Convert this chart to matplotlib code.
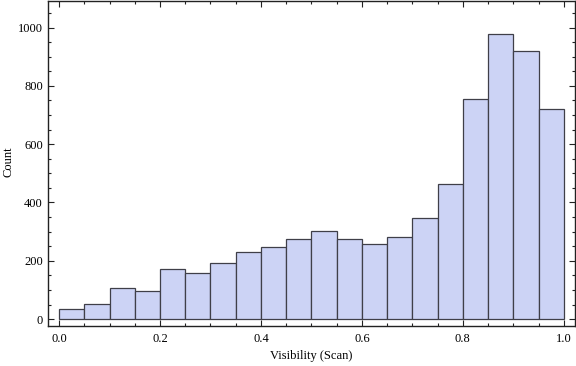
import matplotlib
matplotlib.use("Agg")
import matplotlib.pyplot as plt
import numpy as np
from matplotlib.ticker import MultipleLocator

# histogram bins (visibility) and counts
bin_edges = np.arange(0, 1.0001, 0.05)
counts = [34, 52, 107, 97, 172, 158, 193, 231, 248, 276,
          303, 276, 259, 283, 348, 465, 756, 978, 920, 721]

plt.rcParams['font.family'] = ['Liberation Serif', 'DejaVu Serif']

fig = plt.figure(figsize=(5.76, 3.66), dpi=100)
ax = fig.add_axes([0.0842, 0.109, 0.9138, 0.889])

ax.bar(bin_edges[:-1], counts, width=0.05, align='edge',
       color='#CCD3F5', edgecolor='#3f3f48', linewidth=0.9)

ax.set_xlim(-0.021, 1.022)
ax.set_ylim(-24, 1092)

ax.xaxis.set_major_locator(MultipleLocator(0.2))
ax.xaxis.set_minor_locator(MultipleLocator(0.05))
ax.yaxis.set_major_locator(MultipleLocator(200))
ax.yaxis.set_minor_locator(MultipleLocator(50))
ax.xaxis.set_major_formatter(plt.FuncFormatter(lambda v, p: f"{v:.1f}"))

ax.tick_params(which='both', direction='in', top=True, right=True,
               labelsize=9, color='#222222', width=0.8)
ax.tick_params(which='major', length=4.5)
ax.tick_params(which='minor', length=2.5)
ax.tick_params(axis='x', pad=5)
ax.tick_params(axis='y', pad=4)

for s in ax.spines.values():
    s.set_linewidth(1.0)
    s.set_color('#222222')

ax.set_xlabel('Visibility (Scan)', fontsize=9)
ax.set_ylabel('Count', fontsize=9)
# place axis labels where the reference has them (axes fraction)
ax.xaxis.set_label_coords((311 - 48.5) / 526.5, -(356 - 326) / 325.4, )
ax.yaxis.set_label_coords(-(48.5 - 8.5) / 526.5, (326 - 162) / 325.4)
ax.xaxis.label.set_va('center')
ax.yaxis.label.set_va('center')

fig.savefig('out.png', dpi=100)
